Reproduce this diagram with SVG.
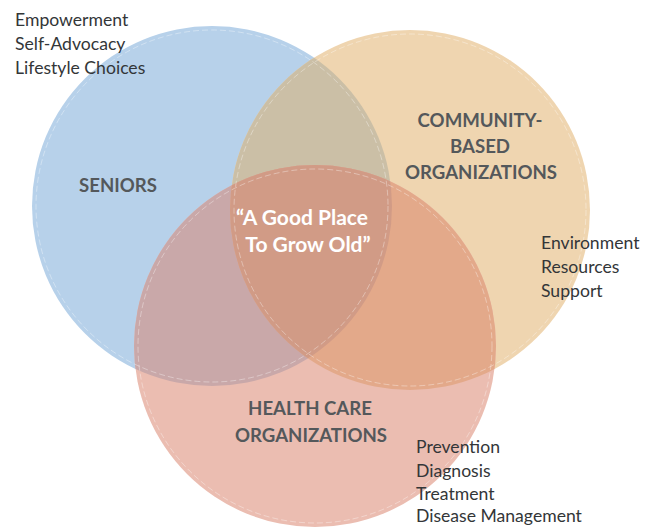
<svg xmlns="http://www.w3.org/2000/svg" width="657" height="527" viewBox="0 0 657 527">
  <style>
    .item { font-family: Lato, "Open Sans", "Liberation Sans", sans-serif; font-size: 17.6px; fill: #333638; }
    .title { font-family: Lato, "Open Sans", "Liberation Sans", sans-serif; font-size: 18.6px; font-weight: bold; fill: #54585b; text-anchor: middle; }
    .motto { font-family: Lato, "Open Sans", "Liberation Sans", sans-serif; font-size: 21px; font-weight: bold; fill: #ffffff; text-anchor: middle; }
    .ring { fill: none; stroke: #ffffff; stroke-width: 1; stroke-dasharray: 6 3; opacity: 0.35; }
  </style>
  <defs>
    <clipPath id="clipBlue"><circle cx="212" cy="206" r="180"/></clipPath>
    <clipPath id="clipOrange"><circle cx="410" cy="210" r="180"/></clipPath>
  </defs>
  <rect width="657" height="527" fill="#ffffff"/>

  <!-- base discs -->
  <g id="seniors">
    <circle cx="212" cy="206" r="180" fill="#b7d1ea"/>
  </g>
  <g id="community">
    <circle cx="410" cy="210" r="180" fill="#efd5b0"/>
  </g>
  <g id="health-care">
    <circle cx="315" cy="346" r="181" fill="#ebbdb1"/>
  </g>

  <!-- overlap regions -->
  <g id="overlaps">
    <g clip-path="url(#clipBlue)">
      <circle cx="410" cy="210" r="180" fill="#cbbfa6"/>
      <circle cx="315" cy="346" r="181" fill="#c9a8a9"/>
    </g>
    <g clip-path="url(#clipOrange)">
      <circle cx="315" cy="346" r="181" fill="#e3a98a"/>
    </g>
    <g clip-path="url(#clipBlue)">
      <g clip-path="url(#clipOrange)">
        <circle cx="315" cy="346" r="181" fill="#d19b86"/>
      </g>
    </g>
  </g>

  <!-- dashed inner rings -->
  <g id="rings">
    <circle class="ring" cx="212" cy="206" r="176"/>
    <circle class="ring" cx="410" cy="210" r="176"/>
    <circle class="ring" cx="315" cy="346" r="177"/>
  </g>

  <!-- labels -->
  <g id="seniors-label">
    <text class="title" x="118" y="192">SENIORS</text>
    <text class="item" x="15" y="26">Empowerment</text>
    <text class="item" x="15" y="50">Self-Advocacy</text>
    <text class="item" x="15" y="74">Lifestyle Choices</text>
  </g>
  <g id="community-label">
    <text class="title" x="480" y="127">COMMUNITY-</text>
    <text class="title" x="480" y="153">BASED</text>
    <text class="title" x="481" y="179">ORGANIZATIONS</text>
    <text class="item" x="541" y="249">Environment</text>
    <text class="item" x="541" y="273">Resources</text>
    <text class="item" x="541" y="297">Support</text>
  </g>
  <g id="health-care-label">
    <text class="title" x="310" y="415">HEALTH CARE</text>
    <text class="title" x="311" y="442">ORGANIZATIONS</text>
    <text class="item" x="416" y="453">Prevention</text>
    <text class="item" x="416" y="477">Diagnosis</text>
    <text class="item" x="416" y="500">Treatment</text>
    <text class="item" x="416" y="522">Disease Management</text>
  </g>
  <g id="center-label">
    <text class="motto" x="302" y="225">“A Good Place</text>
    <text class="motto" x="308" y="252">To Grow Old”</text>
  </g>
</svg>
